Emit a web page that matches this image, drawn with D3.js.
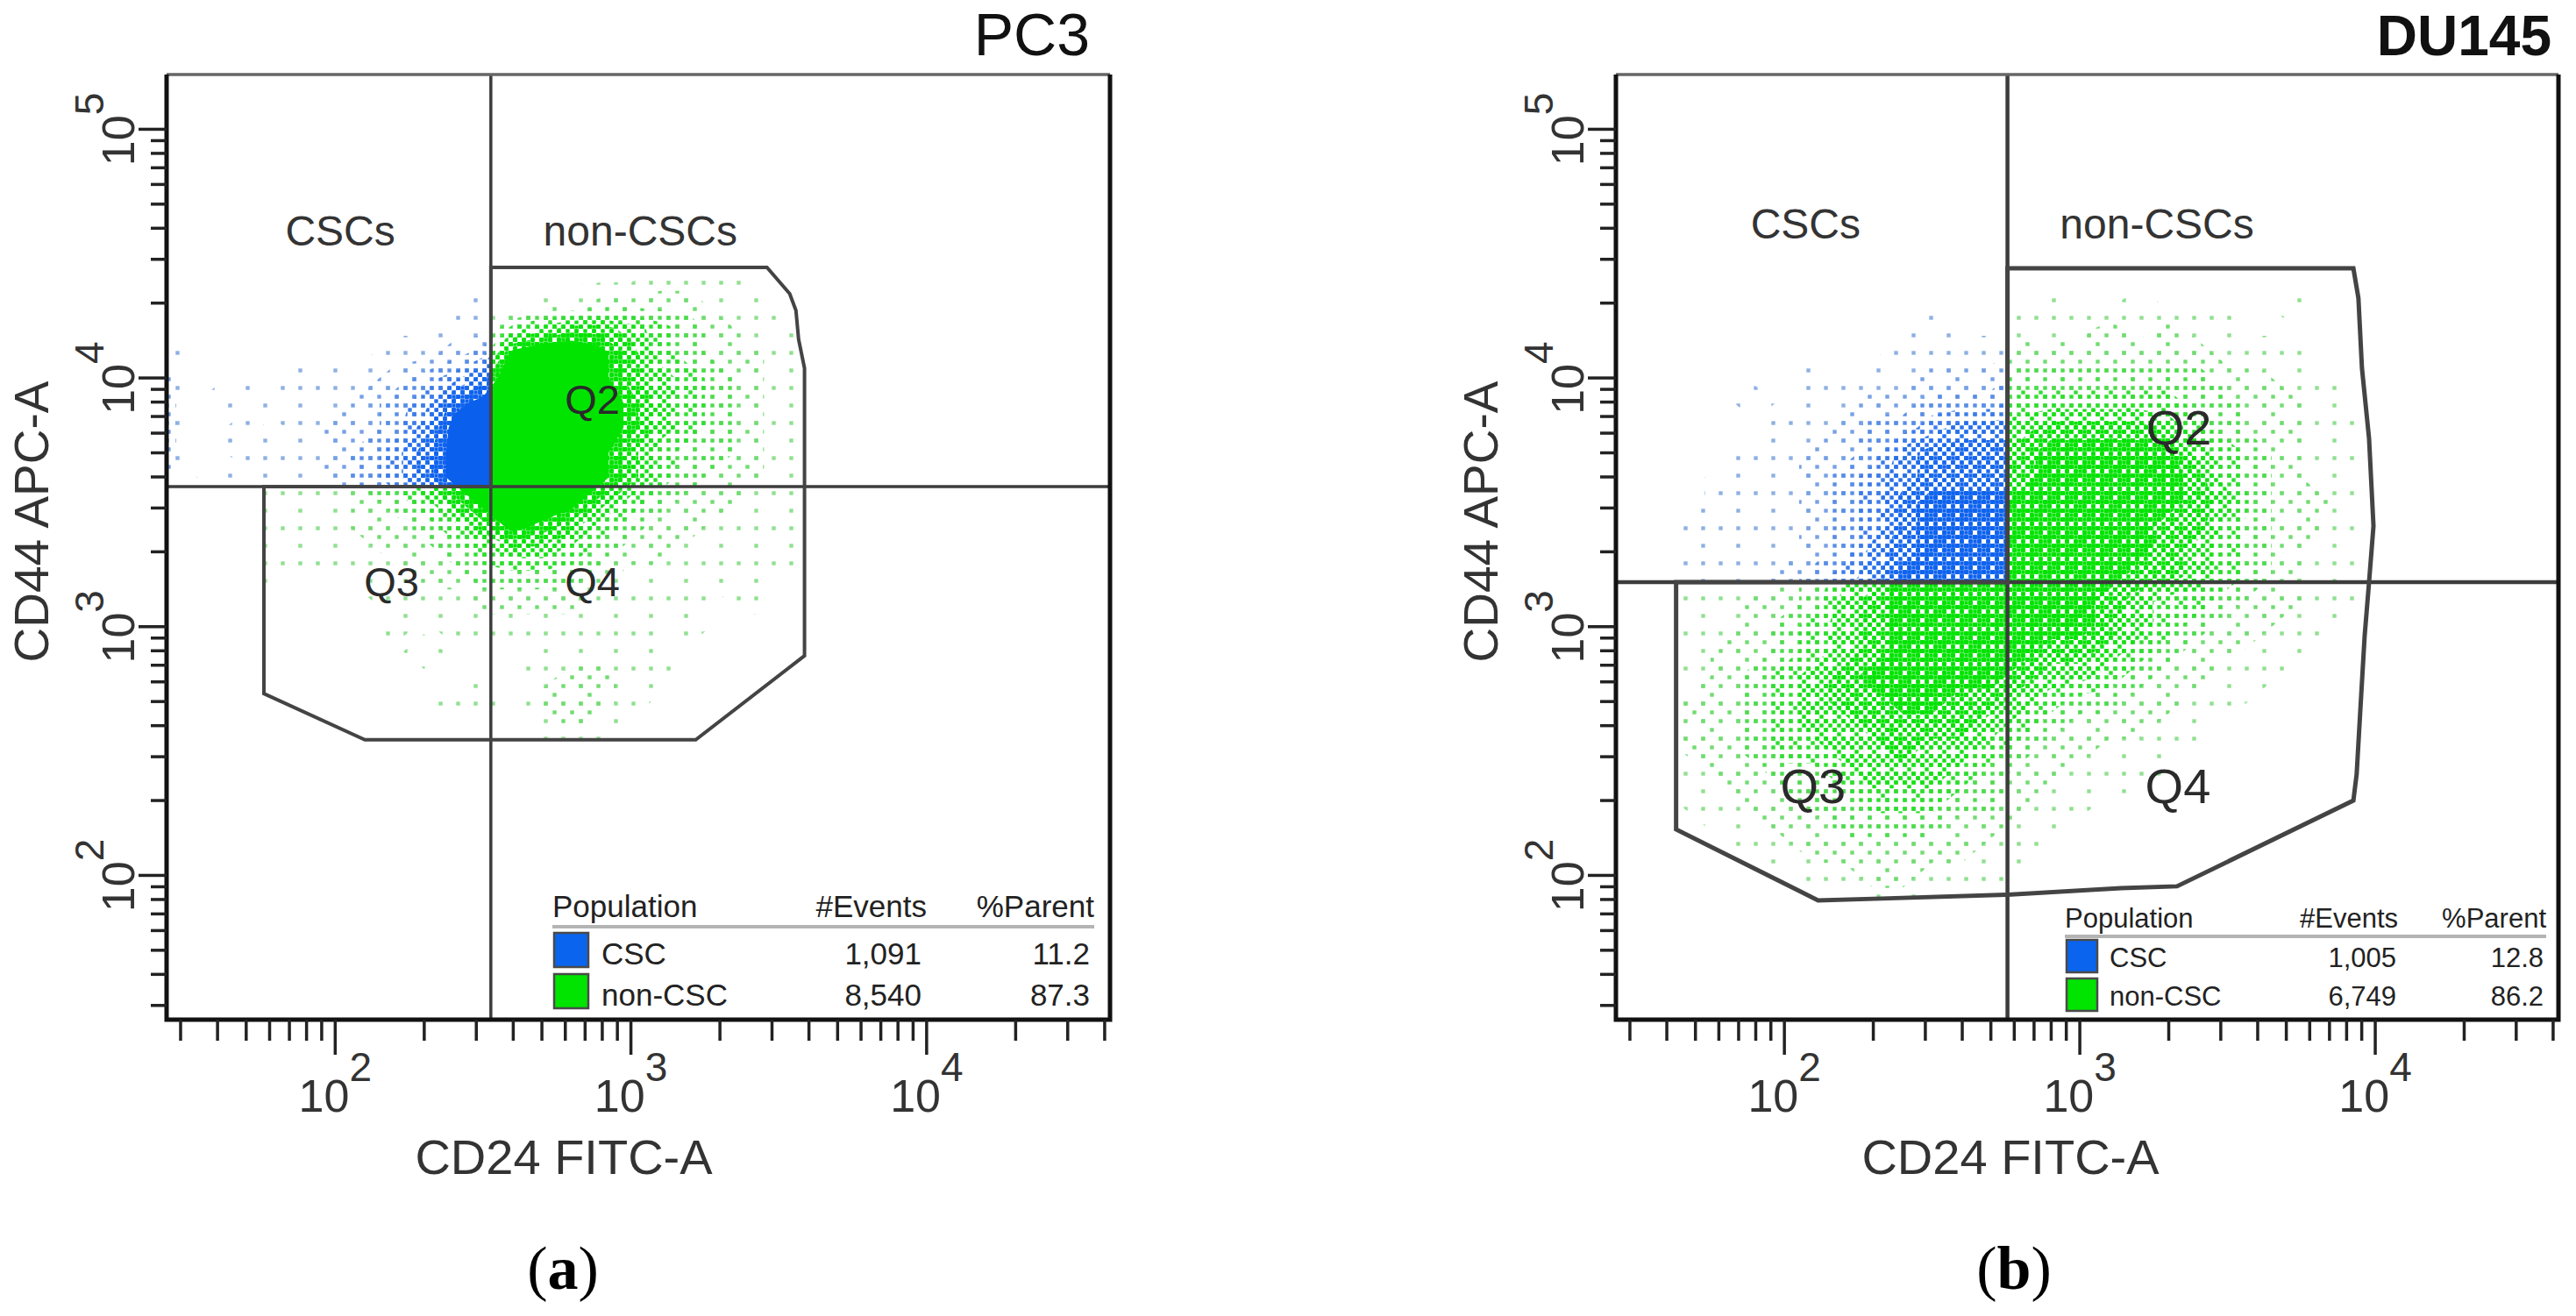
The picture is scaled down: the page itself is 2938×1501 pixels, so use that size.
<!DOCTYPE html>
<html><head><meta charset="utf-8">
<script src="https://cdn.jsdelivr.net/npm/d3@7/dist/d3.min.js"></script>
<style>html,body{margin:0;padding:0;background:#fff;} svg{display:block;}</style>
</head><body>
<svg id="chart" width="2938" height="1501"></svg>
<script>
// ---------------- data ----------------
const panelNames = ["PC3", "DU145"];
const panelLetters = ["a", "b"];
const axisXTitle = "CD24 FITC-A";
const axisYTitle = "CD44 APC-A";
const xDecadeLabels = [2, 3, 4];
const yDecadeLabels = [2, 3, 4, 5];
const xExtent = [26.9, 41700];
const yExtent = [26.3, 166000];

const legendHeaders = ["Population", "#Events", "%Parent"];
const populations = ["CSC", "non-CSC"];
const pc3Events = ["1,091", "8,540"];
const pc3Parent = ["11.2", "87.3"];
const du145Events = ["1,005", "6,749"];
const du145Parent = ["12.8", "86.2"];

const gateNames = ["CSCs", "non-CSCs"];
const quadNames = ["Q2", "Q3", "Q4"];

// quadrant thresholds [CD24, CD44]
const pc3Quadrant = [336, 3660];
const du145Quadrant = [569, 1510];

// non-CSC gate vertices [CD24, CD44]
const pc3Gate = [[336,27860],[2884,27860],[3443,21830],[3614,18710],[3690,14320],[3864,10940],
  [3864,764],[1656,351],[126,351],[57.4,538],[57.4,3660],[336,3660]];
const du145Gate = [[569,27610],[8433,27610],[8770,20940],[9016,10940],[9528,5715],[9863,2541],
  [9528,1510],[9204,914],[8892,451],[8650,255],[8433,200],[2133,90.4],[1377,88.9],[569,83.6],
  [213,80.7],[130,79.4],[43,153],[43,1510],[569,1510]];

// label anchors [CD24, CD44]
const pc3GateLabelAt = [[104,34100],[1076,34100]];
const pc3QuadLabelAt = [[740,7180],[155,1330],[740,1330]];
const du145GateLabelAt = [[118,36400],[1824,36400]];
const du145QuadLabelAt = [[2163,5400],[125,195],[2148,195]];

// event density (0 = empty ... 9 = saturated)
// grid nodes: log10(CD24) = 1.4 + 0.1*col, log10(CD44) = 4.6 - 0.1*row
const gridLogXStart = 1.4, gridLogYStart = 4.6, gridStep = 0.1;
const pc3Density = [
  "000000000000000000000000000",
  "000000000000000000000000000",
  "000000000000000001110000000",
  "000000000001011222211000000",
  "000000000011456654321100000",
  "200000001123899864322100000",
  "300101112346999865432110000",
  "401011123478999975432110000",
  "400101223589999975432110000",
  "400111234689999864332110000",
  "301011234689999864322100000",
  "000011123468998643221110000",
  "000011122346876432211100000",
  "000011112234554322111110000",
  "000010011223333211111000000",
  "000000001112222111101000000",
  "000000001011111110100000000",
  "000000000100011111000000000",
  "000000000000012211000000000",
  "000000000011022210000000000",
  "000000000000012100000000000",
  "000000000000000000000000000",
  "000000000000000000000000000",
  "000000000000000000000000000",
  "000000000000000000000000000",
  "000000000000000000000000000",
  "000000000000000000000000000",
  "000000000000000000000000000",
  "000000000000000000000000000"
];
const du145Density = [
  "000000000000000000000000000",
  "000000000000000000000000000",
  "000000000000000000000000000",
  "000000000000000100100001000",
  "000000000001001112121100000",
  "000000000011112222222111000",
  "000000010112223333333221100",
  "000001011223334444443322100",
  "000000112334555666654322110",
  "000001122356666777775432110",
  "000011123456666777776432110",
  "000011123467777777776532210",
  "000111123467777777766432210",
  "000111123567777777765432110",
  "000111234577777777665432110",
  "000112235677777776544322110",
  "000112345677777776543221100",
  "001122345677777665432211000",
  "001123456777776554322110000",
  "001223456677665433221100000",
  "001223455666654322211000000",
  "001223445565543221110000000",
  "001122334555432211100000000",
  "000112233444332110000000000",
  "000011223333221100000000000",
  "000001122222211000000000000",
  "000000011221110000000000000",
  "000000000110000000000000000",
  "000000000000000000000000000"
];

// ---------------- layout ----------------
const layouts = [
  { frame:{l:190,r:1266,t:85,b:1163}, titleX:1243, titleWeight:400, titleSize:68,
    gSize:48, qSize:47, letterX:642, xTitleX:643, lineW:3.5,
    quad:pc3Quadrant, gate:pc3Gate, density:pc3Density, gateAt:pc3GateLabelAt, quadAt:pc3QuadLabelAt,
    events:pc3Events, parent:pc3Parent,
    lg:{font:35, x0:636, sepEnd:18, sepDy:106, headDy:117, evEnd:209, numEvEnd:215, numPEnd:23,
        sw:{dx:634,w:39,h:39}, rows:[{swDy:99, base:63},{swDy:52, base:16}], textDx:580} },
  { frame:{l:1843,r:2918,t:85,b:1163}, titleX:2910, titleWeight:700, titleSize:64,
    gSize:48, qSize:56, letterX:2297, xTitleX:2293, lineW:4.5,
    quad:du145Quadrant, gate:du145Gate, density:du145Density, gateAt:du145GateLabelAt, quadAt:du145QuadLabelAt,
    events:du145Events, parent:du145Parent,
    lg:{font:31, x0:563, sepEnd:14, sepDy:95, headDy:105, evEnd:183, numEvEnd:185, numPEnd:17,
        sw:{dx:561,w:35,h:37}, rows:[{swDy:91, base:60},{swDy:47, base:16}], textDx:512} }
];

const FONT = "'Liberation Sans', Arial, Helvetica, sans-serif";
const svg = d3.select("#chart");
const defs = svg.append("defs");

// ordered-dither patterns for density levels
function bayer(n){ let m=[[0]]; while(m.length<n){ const s=m.length, r=[];
  for(let yy=0;yy<2*s;yy++){ r.push([]); for(let xx=0;xx<2*s;xx++){
    const q = yy<s ? (xx<s?0:2) : (xx<s?3:1); r[yy].push(m[yy%s][xx%s]*4+q); } } m=r; } return m; }
const B = bayer(8), cell = 5, tile = 40;
const cum = [3, 7, 12, 19, 28, 39, 53, 64];
const greenLevels = ["#90e090","#72dc72","#4edc4e","#2edf2e","#16e116","#08e208","#02e302","#00e400"];
const blueLevels  = ["#8eb0e2","#77a1e4","#5a8ee6","#3d7ce8","#2670eb","#1667ed","#0d62ee","#0a5fec"];
function makePatterns(prefix, colors){
  cum.forEach((c,k)=>{
    const p = defs.append("pattern").attr("id", prefix+k).attr("patternUnits","userSpaceOnUse")
      .attr("width",tile).attr("height",tile);
    if(k===cum.length-1){ p.append("rect").attr("width",tile).attr("height",tile).attr("fill",colors[k]); return; }
    for(let yy=0;yy<8;yy++) for(let xx=0;xx<8;xx++) if(B[yy][xx]<c)
      p.append("rect").attr("x",xx*cell+0.3).attr("y",yy*cell+0.3).attr("width",4.4).attr("height",4.4).attr("fill",colors[k]);
  });
}
makePatterns("pg", greenLevels);
makePatterns("pb", blueLevels);
const thresholds = [0.3, 1.5, 2.5, 3.5, 4.5, 5.5, 6.5, 7.5];

layouts.forEach((L, i) => {
  const f = L.frame;
  const x = d3.scaleLog().domain(xExtent).range([f.l, f.r]);
  const y = d3.scaleLog().domain(yExtent).range([f.b, f.t]);
  const g = svg.append("g");

  // clip regions
  defs.append("clipPath").attr("id","cb"+i).append("rect")
    .attr("x",f.l).attr("y",f.t).attr("width",x(L.quad[0])-f.l).attr("height",y(L.quad[1])-f.t);
  const gateLine = d3.line().x(d=>x(d[0])).y(d=>y(d[1]));
  defs.append("clipPath").attr("id","cg"+i).append("path").attr("d", gateLine(L.gate)+"Z");

  // density contours
  const nx = L.density[0].length, ny = L.density.length;
  const values = [];
  L.density.forEach(row => { for (const ch of row) values.push(+ch); });
  const cont = d3.contours().size([nx, ny]).thresholds(thresholds)(values);
  const proj = d3.geoTransform({ point: function(u, v){
    this.stream.point(x(Math.pow(10, gridLogXStart + (u-0.5)*gridStep)),
                      y(Math.pow(10, gridLogYStart - (v-0.5)*gridStep))); } });
  const path = d3.geoPath(proj);
  const gg = g.append("g").attr("clip-path","url(#cg"+i+")");
  gg.selectAll("path").data(cont).join("path").attr("d", path).attr("fill",(d,k)=>"url(#pg"+k+")");
  const gb = g.append("g").attr("clip-path","url(#cb"+i+")");
  gb.selectAll("path").data(cont).join("path").attr("d", path).attr("fill",(d,k)=>"url(#pb"+k+")");

  // quadrant lines
  g.append("line").attr("x1",x(L.quad[0])).attr("x2",x(L.quad[0])).attr("y1",f.t).attr("y2",f.b)
    .attr("stroke","#3c3c3c").attr("stroke-width",L.lineW);
  g.append("line").attr("x1",f.l).attr("x2",f.r).attr("y1",y(L.quad[1])).attr("y2",y(L.quad[1]))
    .attr("stroke","#3c3c3c").attr("stroke-width",L.lineW);
  // gate polygon
  g.append("path").attr("d", gateLine(L.gate)+"Z").attr("fill","none").attr("stroke","#444")
    .attr("stroke-width",L.lineW+0.5).attr("stroke-linejoin","miter");

  // gate & quadrant labels
  gateNames.forEach((t,k)=> g.append("text").attr("x",x(L.gateAt[k][0])).attr("y",y(L.gateAt[k][1]))
    .attr("text-anchor","middle").attr("font-family",FONT).attr("font-size",L.gSize).attr("fill","#333").text(t));
  quadNames.forEach((t,k)=> g.append("text").attr("x",x(L.quadAt[k][0])).attr("y",y(L.quadAt[k][1]))
    .attr("text-anchor","middle").attr("font-family",FONT).attr("font-size",L.qSize).attr("fill","#2a2a2a").text(t));

  // legend
  const lg = L.lg;
  const lx = f.r - lg.x0;
  const lt = (tx, ty, s, anchor) => g.append("text").attr("x",tx).attr("y",ty).attr("text-anchor",anchor||"start")
      .attr("font-family",FONT).attr("font-size",lg.font).attr("fill","#222").text(s);
  lt(lx, f.b-lg.headDy, legendHeaders[0]);
  lt(f.r-lg.evEnd, f.b-lg.headDy, legendHeaders[1], "end");
  lt(f.r-lg.sepEnd, f.b-lg.headDy, legendHeaders[2], "end");
  g.append("line").attr("x1",lx).attr("x2",f.r-lg.sepEnd).attr("y1",f.b-lg.sepDy).attr("y2",f.b-lg.sepDy)
    .attr("stroke","#b4b4b4").attr("stroke-width",4);
  populations.forEach((p,k)=>{
    const row = lg.rows[k];
    g.append("rect").attr("x",f.r-lg.sw.dx).attr("y",f.b-row.swDy).attr("width",lg.sw.w).attr("height",lg.sw.h)
      .attr("fill", k===0 ? "#0a64ee" : "#00e400").attr("stroke","#4a4a4a").attr("stroke-width",2.5);
    lt(f.r-lg.textDx, f.b-row.base, p);
    lt(f.r-lg.numEvEnd, f.b-row.base, L.events[k], "end");
    lt(f.r-lg.numPEnd, f.b-row.base, L.parent[k], "end");
  });

  // frame: thin grey top, heavy black sides and bottom
  g.append("line").attr("x1",f.l).attr("x2",f.r).attr("y1",f.t).attr("y2",f.t)
    .attr("stroke","#666").attr("stroke-width",3.5);
  g.append("path").attr("d",`M${f.l},${f.t}V${f.b}H${f.r}V${f.t}`).attr("fill","none")
    .attr("stroke","#111").attr("stroke-width",5).attr("stroke-linejoin","miter");

  // ticks
  const ax = g.append("g").attr("stroke","#222").attr("stroke-width",3.5);
  for (let d=1; d<=5; d++) for (let m=1; m<=9; m++) {
    const v = m*Math.pow(10,d);
    if (v > xExtent[0] && v < xExtent[1]) {
      const len = m===1 ? 40 : 24;
      ax.append("line").attr("x1",x(v)).attr("x2",x(v)).attr("y1",f.b).attr("y2",f.b+len);
    }
    if (v > yExtent[0] && v < yExtent[1]) {
      const len = m===1 ? 32 : 18;
      ax.append("line").attr("x1",f.l).attr("x2",f.l-len).attr("y1",y(v)).attr("y2",y(v));
    }
  }
  // tick labels
  xDecadeLabels.forEach(dd=>{
    const t = g.append("text").attr("x",x(Math.pow(10,dd))).attr("y",f.b+105).attr("text-anchor","middle")
      .attr("font-family",FONT).attr("font-size",52).attr("fill","#333");
    t.append("tspan").text("10");
    t.append("tspan").attr("dy",-35).attr("font-size",46).text(dd);
  });
  yDecadeLabels.forEach(dd=>{
    const yy = y(Math.pow(10,dd)), xx = f.l-37;
    const t = g.append("text").attr("transform",`translate(${xx},${yy}) rotate(-90)`).attr("text-anchor","middle")
      .attr("font-family",FONT).attr("font-size",52).attr("fill","#333");
    t.append("tspan").text("10");
    t.append("tspan").attr("dy",-35).attr("font-size",46).text(dd);
  });

  // axis titles
  g.append("text").attr("x",L.xTitleX).attr("y",1339).attr("text-anchor","middle")
    .attr("font-family",FONT).attr("font-size",56).attr("fill","#333").text(axisXTitle);
  g.append("text").attr("transform",`translate(${f.l-135},595) rotate(-90)`).attr("text-anchor","middle")
    .attr("font-family",FONT).attr("font-size",55).attr("fill","#333").text(axisYTitle);

  // panel title
  g.append("text").attr("x",L.titleX).attr("y",63).attr("text-anchor","end")
    .attr("font-family",FONT).attr("font-size",L.titleSize).attr("font-weight",L.titleWeight).attr("fill","#111")
    .text(panelNames[i]);

  // panel letter
  const pl = g.append("text").attr("x",L.letterX).attr("y",1470).attr("text-anchor","middle")
    .attr("font-family","'Liberation Serif','Times New Roman',serif").attr("font-size",70).attr("fill","#000");
  pl.append("tspan").text("(");
  pl.append("tspan").attr("font-weight",700).text(panelLetters[i]);
  pl.append("tspan").text(")");
});
</script>
</body></html>
